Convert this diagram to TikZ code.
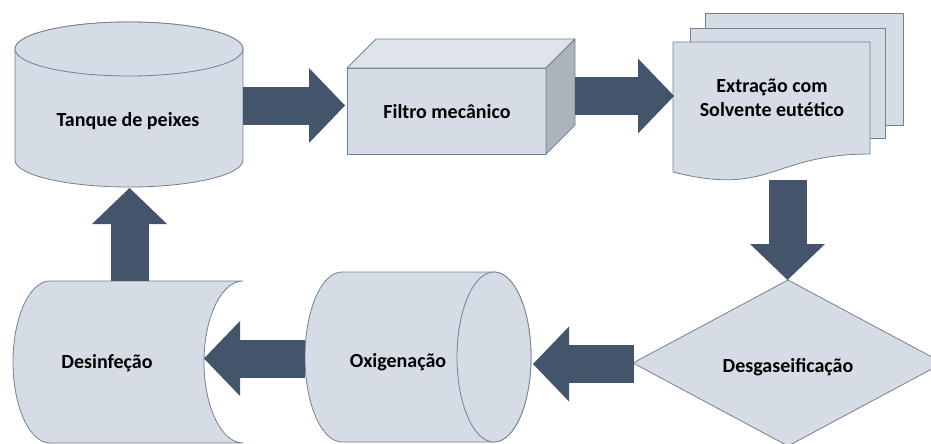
\documentclass[tikz,border=0pt]{standalone}
\usepackage{fontspec}
\setmainfont{Carlito}
\usetikzlibrary{arrows.meta}

\definecolor{boxfill}{HTML}{D6DCE5}
\definecolor{boxline}{HTML}{74818F}
\definecolor{boxside}{HTML}{ADB3BB}
\definecolor{boxtop}{HTML}{DFE3EA}
\definecolor{flowblue}{HTML}{44546A}

\begin{document}
\begin{tikzpicture}[x=1pt,y=-1pt,
  shp/.style={fill=boxfill,draw=boxline,line width=0.8pt,line join=round},
  flow/.style={flowblue,line width=38pt,-{Triangle[length=36pt,width=75pt,line width=0pt]}},
  lbl/.style={font=\bfseries\fontsize{20}{24}\selectfont,align=center,inner sep=0pt}]
\path[use as bounding box] (0,0) rectangle (931,444);
\clip (0,0) rectangle (931,444);

% tanque (cylinder)
\draw[shp] (15,49) -- (15,160) arc[start angle=180,end angle=0,x radius=114,y radius=27]
  -- (243,49) arc[start angle=0,end angle=-180,x radius=114,y radius=27] -- cycle;
\draw[shp] (129,49) ellipse[x radius=114,y radius=27];

% filtro (cuboid)
\draw[shp] (347,68) rectangle (546,154);
\draw[shp,fill=boxtop] (347,68) -- (376,39) -- (575,39) -- (546,68) -- cycle;
\draw[shp,fill=boxside] (546,68) -- (575,39) -- (575,125) -- (546,154) -- cycle;

% extracao (document stack)
\draw[shp] (705,13) rectangle (903,125);
\draw[shp] (690,28) rectangle (885,138);
\draw[shp] (673,42) -- (870,42) -- (870,154)
  .. controls (771,154) and (771,197) .. (673,172) -- cycle;

% desgaseificacao (diamond)
\draw[shp] (788,280) -- (943,363) -- (788,446) -- (633,363) -- cycle;

% oxigenacao (horizontal cylinder)
\draw[shp] (342,272) -- (494,272) arc[start angle=-90,end angle=90,x radius=37,y radius=85]
  -- (342,442) arc[start angle=90,end angle=270,x radius=37,y radius=85] -- cycle;
\draw[shp] (494,357) ellipse[x radius=37,y radius=85];

% desinfecao (stored data)
\draw[shp] (50,281) -- (243,281) arc[start angle=-90,end angle=-270,x radius=39,y radius=81]
  -- (50,443) arc[start angle=90,end angle=270,x radius=37,y radius=81] -- cycle;

% labels
\node[lbl] (tank) at (128,121) {Tanque de peixes};
\node[lbl] (filter) at (447,112) {Filtro mecânico};
\node[lbl] (extr) at (772,98) {Extração com\\Solvente eutético};
\node[lbl] (degas) at (788,367) {Desgaseificação};
\node[lbl] (oxy) at (398,362) {Oxigenação};
\node[lbl] (disinf) at (107,363) {Desinfeção};

% shape edges
\coordinate (tank-e) at (243,105.5);
\coordinate (tank-s) at (129.5,188);
\coordinate (filter-w) at (345,105.5);
\coordinate (filter-e) at (575,96);
\coordinate (extr-w) at (674,96);
\coordinate (extr-s) at (787.5,180);
\coordinate (degas-n) at (787.5,280);
\coordinate (degas-w) at (634,364);
\coordinate (oxy-e) at (533,364);
\coordinate (oxy-w) at (305,358.5);
\coordinate (disinf-e) at (204,358.5);
\coordinate (disinf-n) at (129.5,281);

% flow arrows
\draw[flow] (tank-e) -- (filter-w);
\draw[flow] (filter-e) -- (extr-w);
\draw[flow] (extr-s) -- (degas-n);
\draw[flow] (degas-w) -- (oxy-e);
\draw[flow] (oxy-w) -- (disinf-e);
\draw[flow] (disinf-n) -- (tank-s);
\end{tikzpicture}
\end{document}
